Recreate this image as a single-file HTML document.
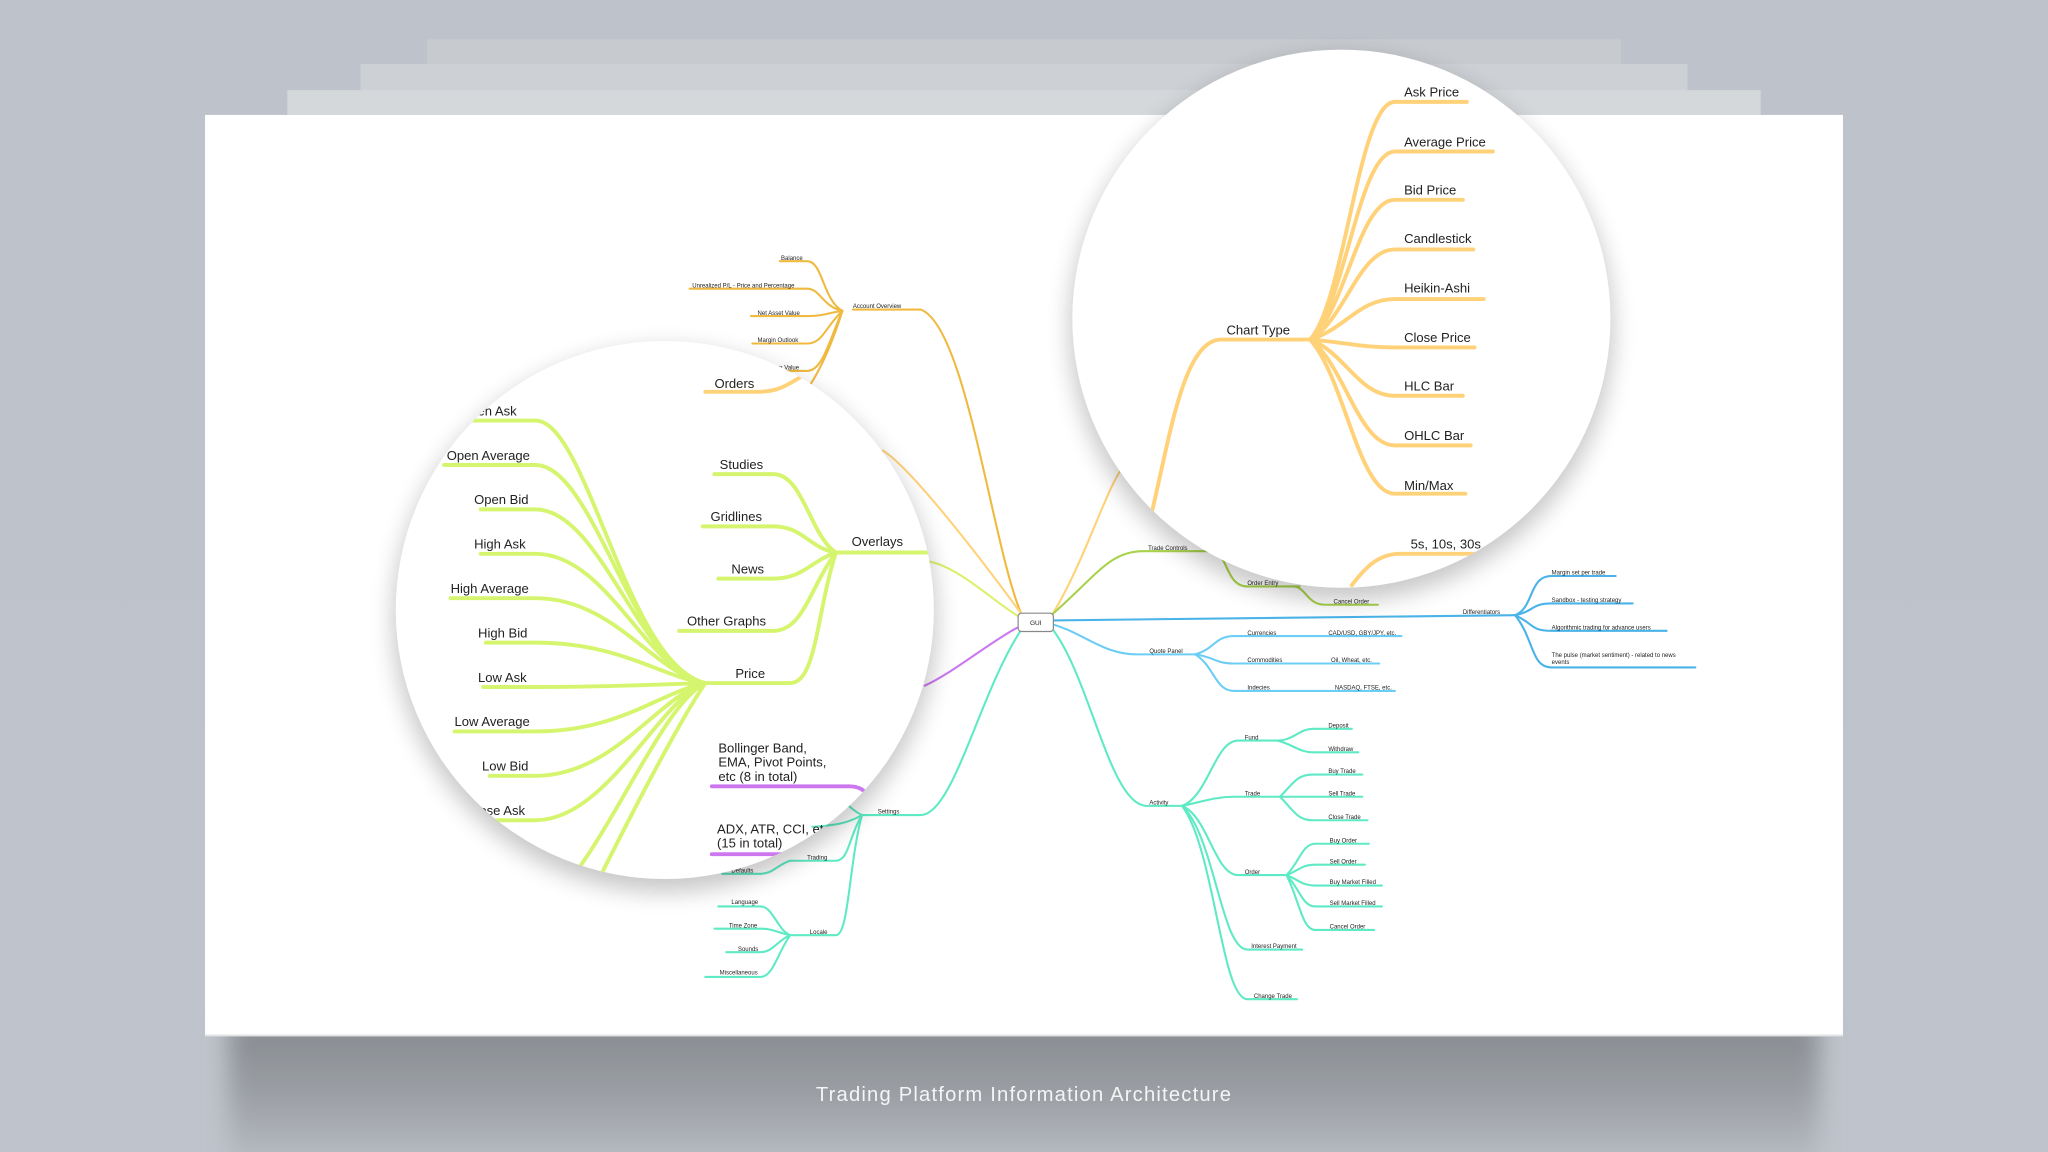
<!DOCTYPE html>
<html><head><meta charset="utf-8"><style>
html,body{margin:0;padding:0;width:2048px;height:1152px;overflow:hidden;background:#bfc3cb;}
svg{display:block}
text{font-family:"Liberation Sans","DejaVu Sans",sans-serif;fill:#222}
.s{font-size:4.6px}
.b{font-size:10px}
.st{fill:none;stroke-linecap:round}
</style></head><body>
<svg width="2048" height="1152" viewBox="0 0 1568 882" xmlns="http://www.w3.org/2000/svg">
<defs>
<filter id="blur" x="-20%" y="-50%" width="140%" height="200%"><feGaussianBlur stdDeviation="9"/></filter>
<filter id="cblur" x="-20%" y="-20%" width="140%" height="140%"><feGaussianBlur stdDeviation="9"/></filter>
<linearGradient id="bg" x1="0" y1="0" x2="0" y2="1"><stop offset="0" stop-color="#bec2ca"/><stop offset="1" stop-color="#bfc3cb"/></linearGradient>
<linearGradient id="sh" x1="0" y1="0" x2="0" y2="1"><stop offset="0" stop-color="#85898e"/><stop offset="0.5" stop-color="#9a9ea3"/><stop offset="1" stop-color="#b8bcc3"/></linearGradient>
<clipPath id="cl"><circle cx="509" cy="467" r="206"/></clipPath>
<clipPath id="cr"><circle cx="1027" cy="244" r="206"/></clipPath>
</defs>
<rect width="1568" height="882" fill="url(#bg)"/>
<rect x="327" y="30" width="914" height="60" fill="#c7cacf"/>
<rect x="276" y="49" width="1016" height="50" fill="#cdd0d4"/>
<rect x="220" y="69" width="1128" height="30" fill="#d5d8db"/>
<!-- card shadow -->
<rect x="175" y="780" width="1218" height="110" fill="url(#sh)" filter="url(#blur)"/>
<rect x="157" y="88" width="1254" height="705" fill="#fff"/>
<rect x="157" y="792" width="1254" height="1.5" fill="#e2e4e6"/>

<!-- ============ small map ============ -->
<g class="st" stroke-width="1.6">
<g stroke="#f0b940">
<path d="M782 470 C760 420 740 250 705 237 L653 237"/>
<path d="M645 238 C630 230 630 200 618 200 L597 200"/>
<path d="M645 238 C630 235 628 221 618 221 L528 221"/>
<path d="M645 238 C632 240 630 242 618 242 L575 242"/>
<path d="M645 238 C632 250 630 263 618 263 L576 263"/>
<path d="M645 238 C635 260 630 284 618 284 L595 284"/>
<path d="M645 238 C638 260 630 280 620 295"/>
</g>
<path stroke="#ffd27a" d="M782 470 C760 440 700 360 676 345"/>
<path stroke="#ffd27a" d="M806 470 C830 430 845 380 858 360"/>
<g stroke="#a8d24a">
<path d="M806 470 C840 440 850 422 875 422 L928 422"/>
<path d="M928 422 C940 422 938 449 955 449 L995 449"/>
<path d="M990 449 C1000 449 1000 463 1015 463 L1055 463"/>
</g>
<path stroke="#dcf06a" d="M780 472 C760 460 735 435 712 430"/>
<path stroke="#cc77f0" d="M780 480 C760 490 730 515 708 525"/>
<g stroke="#4ab3e8">
<path d="M806 475 L1160 471"/>
<path d="M1160 471 C1175 465 1170 441 1188 441 L1237 441"/>
<path d="M1160 471 C1175 468 1172 462 1188 462 L1250 462"/>
<path d="M1160 471 C1175 478 1172 483 1188 483 L1276 483"/>
<path d="M1160 471 C1175 490 1172 511 1188 511 L1298 511"/>
</g>
<g stroke="#6ccdf5">
<path d="M806 478 C830 485 845 501 870 501 L915 501"/>
<path d="M915 501 C930 497 930 487 945 487 L1073 487"/>
<path d="M915 501 C930 503 930 508 945 508 L1056 508"/>
<path d="M915 501 C930 510 930 529 945 529 L1068 529"/>
</g>
<g stroke="#5eeac4">
<path d="M806 482 C835 520 850 617 878 617 L905 617"/>
<path d="M905 617 C925 610 930 567 948 567 L980 567"/>
<path d="M978 567 C990 567 995 558 1005 558 L1035 558"/>
<path d="M978 567 C990 570 995 576 1005 576 L1040 576"/>
<path d="M905 617 C920 614 930 610 945 610 L980 610"/>
<path d="M980 610 C990 600 993 593 1005 593 L1043 593"/>
<path d="M980 610 L1043 610"/>
<path d="M980 610 C990 620 993 628 1005 628 L1047 628"/>
<path d="M905 617 C925 625 930 670 948 670 L985 670"/>
<path d="M985 670 C995 660 997 646 1007 646 L1048 646"/>
<path d="M985 670 C995 666 997 662 1007 662 L1045 662"/>
<path d="M985 670 C995 674 997 678 1007 678 L1058 678"/>
<path d="M985 670 C995 680 997 694 1007 694 L1058 694"/>
<path d="M985 670 C995 690 997 712 1007 712 L1052 712"/>
<path d="M905 617 C930 640 935 727 955 727 L997 727"/>
<path d="M905 617 C930 650 935 765 955 765 L993 765"/>
<path d="M782 482 C750 530 730 624 705 624 L660 624"/>
<path d="M660 624 C650 620 640 605 635 603"/>
<path d="M660 624 C650 630 640 632 620 633"/>
<path d="M660 624 C650 640 650 659 640 659 L605 659"/>
<path d="M605 659 C595 662 592 669 582 669 L553 669"/>
<path d="M660 624 C650 660 650 716 640 716 L605 716"/>
<path d="M605 716 C595 712 592 694 582 694 L550 694"/>
<path d="M605 716 C595 714 592 711 582 711 L547 711"/>
<path d="M605 716 C595 720 592 729 582 729 L556 729"/>
<path d="M605 716 C595 730 592 748 582 748 L540 748"/>
</g>
</g>
<rect x="779.5" y="469.5" width="27" height="14" rx="2.5" fill="#fff" stroke="#888" stroke-width="0.9"/>
<text x="793" y="478.5" font-size="5" text-anchor="middle">GUI</text>
<g class="s">
<text x="598" y="199">Balance</text>
<text x="530" y="220">Unrealized P/L - Price and Percentage</text>
<text x="580" y="241">Net Asset Value</text>
<text x="580" y="262">Margin Outlook</text>
<text x="593" y="283">ion Value</text>
<text x="653" y="236">Account Overview</text>
<text x="879" y="421">Trade Controls</text>
<text x="955" y="448">Order Entry</text>
<text x="1021" y="462">Cancel Order</text>
<text x="1120" y="470">Differentiators</text>
<text x="1188" y="440">Margin set per trade</text>
<text x="1188" y="461">Sandbox - testing strategy</text>
<text x="1188" y="482">Algorithmic trading for advance users</text>
<text x="1188" y="503">The pulse (market sentiment) - related to news</text>
<text x="1188" y="508.5">events</text>
<text x="880" y="500">Quote Panel</text>
<text x="955" y="486">Currencies</text><text x="1017" y="486">CAD/USD, GBY/JPY, etc.</text>
<text x="955" y="507">Commodities</text><text x="1019" y="507">Oil, Wheat, etc.</text>
<text x="955" y="528">Indecies</text><text x="1022" y="528">NASDAQ, FTSE, etc.</text>
<text x="880" y="616">Activity</text>
<text x="953" y="566">Fund</text>
<text x="1017" y="557">Deposit</text>
<text x="1017" y="575">Withdraw</text>
<text x="953" y="609">Trade</text>
<text x="1017" y="592">Buy Trade</text>
<text x="1017" y="609">Sell Trade</text>
<text x="1017" y="627">Close Trade</text>
<text x="953" y="669">Order</text>
<text x="1018" y="645">Buy Order</text>
<text x="1018" y="661">Sell Order</text>
<text x="1018" y="677">Buy Market Filled</text>
<text x="1018" y="693">Sell Market Filled</text>
<text x="1018" y="711">Cancel Order</text>
<text x="958" y="726">Interest Payment</text>
<text x="960" y="764">Change Trade</text>
<text x="672" y="623">Settings</text>
<text x="618" y="658">Trading</text>
<text x="560" y="668">Defaults</text>
<text x="620" y="715">Locale</text>
<text x="560" y="692">Language</text>
<text x="558" y="710">Time Zone</text>
<text x="565" y="728">Sounds</text>
<text x="551" y="746">Miscellaneous</text>
</g>

<!-- ============ left circle ============ -->
<circle cx="509" cy="475" r="208" fill="#000" opacity="0.22" filter="url(#cblur)"/>
<circle cx="509" cy="467" r="206" fill="#fff"/>
<g clip-path="url(#cl)">
<g class="st" stroke-width="3">
<path stroke="#ffd27a" d="M540 300 L580 300 C600 300 605 292 625 282"/>
<g stroke="#d6f56e">
<path d="M712 423 L640 423"/>
<path d="M640 423 C620 410 615 363 592 363 L547 363"/>
<path d="M640 423 C620 420 615 403 592 403 L538 403"/>
<path d="M640 423 C620 430 615 443 592 443 L550 443"/>
<path d="M640 423 C620 450 615 483 592 483 L520 483"/>
<path d="M640 423 C625 470 625 523 605 523 L540 523"/>
<path d="M540 523 C480 510 450 322 410 322 L340 322"/>
<path d="M540 523 C485 510 455 356 410 356 L340 356"/>
<path d="M540 523 C490 512 460 390 410 390 L368 390"/>
<path d="M540 523 C495 514 465 424 410 424 L368 424"/>
<path d="M540 523 C500 515 470 458 410 458 L345 458"/>
<path d="M540 523 C505 518 475 492 410 492 L372 492"/>
<path d="M540 523 C500 524 470 526 410 526 L370 526"/>
<path d="M540 523 C505 530 475 560 410 560 L348 560"/>
<path d="M540 523 C505 532 470 594 410 594 L375 594"/>
<path d="M540 523 C505 535 465 628 410 628 L360 628"/>
<path d="M540 523 C505 540 460 660 420 690"/>
<path d="M540 523 C515 560 470 650 450 690"/>
</g>
<path stroke="#cc77f0" d="M545 602 L650 602 C658 602 662 605 665 610"/>
<path stroke="#cc77f0" d="M545 654 L598 654"/>
<path stroke="#5eeac4" stroke-width="1.6" d="M660 624 C650 630 640 632 622 633"/>
</g>
<g class="b">
<text x="547" y="297">Orders</text>
<text x="360" y="318">pen Ask</text>
<text x="342" y="352">Open Average</text>
<text x="363" y="386">Open Bid</text>
<text x="363" y="420">High Ask</text>
<text x="345" y="454">High Average</text>
<text x="366" y="488">High Bid</text>
<text x="366" y="522">Low Ask</text>
<text x="348" y="556">Low Average</text>
<text x="369" y="590">Low Bid</text>
<text x="367" y="624">ose Ask</text>
<text x="551" y="359">Studies</text>
<text x="544" y="399">Gridlines</text>
<text x="560" y="439">News</text>
<text x="526" y="479">Other Graphs</text>
<text x="563" y="519">Price</text>
<text x="652" y="418">Overlays</text>
<text x="550" y="576">Bollinger Band,</text>
<text x="550" y="587">EMA, Pivot Points,</text>
<text x="550" y="598">etc (8 in total)</text>
<text x="549" y="638">ADX, ATR, CCI, etc</text>
<text x="549" y="649">(15 in total)</text>
</g>
</g>

<!-- ============ right circle ============ -->
<circle cx="1027" cy="252" r="208" fill="#000" opacity="0.22" filter="url(#cblur)"/>
<circle cx="1027" cy="244" r="206" fill="#fff"/>
<g clip-path="url(#cr)">
<g class="st" stroke-width="3" stroke="#ffd27a">
<path d="M880 400 C895 340 905 260 935 260 L1003 260"/>
<path d="M1003 260 C1030 230 1040 78 1068 78 L1123 78"/>
<path d="M1003 260 C1030 235 1040 116 1068 116 L1143 116"/>
<path d="M1003 260 C1030 240 1040 153 1068 153 L1120 153"/>
<path d="M1003 260 C1030 245 1040 191 1068 191 L1128 191"/>
<path d="M1003 260 C1030 252 1040 229 1068 229 L1136 229"/>
<path d="M1003 260 C1030 262 1040 266 1068 266 L1129 266"/>
<path d="M1003 260 C1030 270 1040 303 1068 303 L1120 303"/>
<path d="M1003 260 C1030 280 1040 341 1068 341 L1126 341"/>
<path d="M1003 260 C1030 290 1040 378 1068 378 L1122 378"/>
<path d="M1035 448 C1045 435 1055 424 1072 424 L1140 424"/>
</g>
<g class="b">
<text x="939" y="256">Chart Type</text>
<text x="1075" y="74">Ask Price</text>
<text x="1075" y="112">Average Price</text>
<text x="1075" y="149">Bid Price</text>
<text x="1075" y="186">Candlestick</text>
<text x="1075" y="224">Heikin-Ashi</text>
<text x="1075" y="262">Close Price</text>
<text x="1075" y="299">HLC Bar</text>
<text x="1075" y="337">OHLC Bar</text>
<text x="1075" y="375">Min/Max</text>
<text x="1080" y="420">5s, 10s, 30s</text>
</g>
</g>

<text x="784" y="843" text-anchor="middle" font-size="15.5" style="fill:#f4f5f6;letter-spacing:0.9px">Trading Platform Information Architecture</text>
</svg>
</body></html>
